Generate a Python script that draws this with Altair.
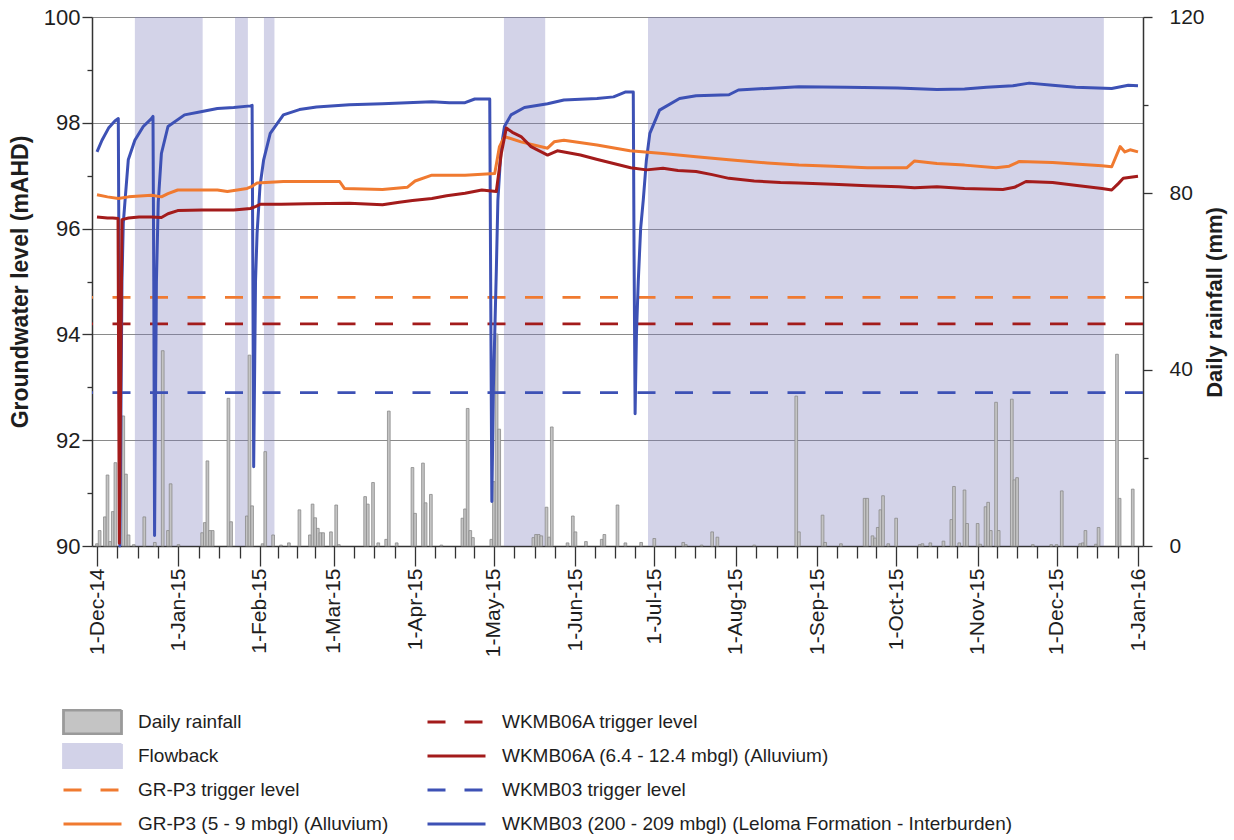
import altair as alt
import pandas as pd

# ---- time axis: positions are days since 1 Dec 2014 ----
MONTH_START_DAYS = [0, 31, 62, 90, 121, 151, 182, 212, 243, 274, 304, 335, 365, 396]
MONTH_LABELS = ["1-Dec-14", "1-Jan-15", "1-Feb-15", "1-Mar-15", "1-Apr-15", "1-May-15",
                "1-Jun-15", "1-Jul-15", "1-Aug-15", "1-Sep-15", "1-Oct-15", "1-Nov-15",
                "1-Dec-15", "1-Jan-16"]

# ---- series names ----
RAIN = "Daily rainfall"
FLOW = "Flowback"
GR_TRIG = "GR-P3 trigger level"
GR = "GR-P3 (5 - 9 mbgl) (Alluvium)"
W6_TRIG = "WKMB06A trigger level"
W6 = "WKMB06A (6.4 - 12.4 mbgl) (Alluvium)"
W3_TRIG = "WKMB03 trigger level"
W3 = "WKMB03 (200 - 209 mbgl) (Leloma Formation - Interburden)"

# ---- flowback periods (start day, end day) ----
flow_start = [14.4, 52.5, 63.5, 154.8, 209.6]
flow_end = [40.2, 57.4, 67.5, 170.5, 383.0]

# ---- daily rainfall (mm) ----
rain_day = [0, 1, 3, 4, 5, 6, 7, 10, 11, 12, 14, 18, 22, 25, 27, 28, 31, 40, 41, 42, 43, 44,
            50, 51, 57, 58, 59, 63, 64, 67, 70, 73, 77, 81, 82, 83, 84, 85, 86, 89, 91, 92,
            102, 103, 105, 107, 110, 111, 114, 120, 121, 124, 125, 127, 131, 139, 140, 141,
            142, 143, 150, 151, 152, 153, 166, 167, 168, 169, 171, 172, 173, 179, 181, 182,
            186, 192, 193, 198, 201, 207, 212, 223, 224, 230, 234, 236, 250, 266, 267, 276,
            277, 283, 292, 293, 295, 296, 297, 298, 299, 301, 304, 313, 314, 317, 322, 325,
            326, 328, 330, 331, 335, 336, 338, 339, 340, 342, 343, 348, 349, 350, 356, 363,
            365, 367, 374, 375, 376, 380, 381, 388, 389, 394]
rain_mm = [0.5, 3.5, 6.6, 16.1, 1.0, 7.8, 18.9, 29.5, 16.3, 2.5, 0.3, 6.6, 0.8, 44.3, 3.5, 14.1,
           0.3, 3.0, 5.3, 19.3, 3.5, 3.5, 33.5, 5.5, 6.8, 43.3, 9.1, 0.5, 21.4, 2.5, 0.2, 0.7,
           8.2, 2.5, 9.5, 6.4, 4.0, 3.0, 3.0, 3.2, 9.3, 0.3, 11.2, 9.5, 14.4, 0.7, 1.5, 30.6,
           0.7, 17.8, 7.4, 18.8, 9.8, 11.7, 0.2, 6.3, 8.4, 31.2, 3.5, 1.9, 1.5, 14.6, 48.1,
           26.5, 1.9, 2.6, 2.6, 2.3, 8.8, 2.0, 27.0, 0.7, 6.8, 3.2, 1.0, 1.5, 2.6, 9.3, 0.7,
           0.8, 1.7, 0.8, 0.3, 0.2, 3.2, 2.0, 0.2, 34.0, 3.2, 7.0, 0.8, 0.5, 10.8, 10.8, 2.3,
           1.8, 4.2, 8.2, 11.4, 0.5, 6.3, 0.3, 0.5, 0.7, 1.1, 6.0, 13.5, 0.7, 12.7, 5.1, 5.1,
           0.4, 8.9, 9.9, 3.5, 32.6, 3.5, 33.3, 15.0, 15.5, 0.3, 0.3, 0.3, 12.5, 0.5, 0.7,
           3.5, 0.4, 4.2, 43.5, 10.8, 12.9]

# ---- trigger levels (mAHD) ----
trig_names = [GR_TRIG, W6_TRIG, W3_TRIG]
trig_levels = [94.7, 94.2, 92.9]

# ---- groundwater levels (mAHD) ----
w3_day = [0, 1.9, 4.4, 6.9, 8.1, 8.4, 8.7, 9.1, 9.5, 10.0, 10.7, 11.9, 14.4, 17.6, 20.7, 21.3,
          21.6, 21.9, 22.3, 22.6, 23.3, 24.5, 27.0, 33.3, 39.5, 45.8, 52.0, 58.4, 59.0,
          59.3, 59.6, 60.0, 60.3, 60.9, 62.0, 63.4, 65.9, 70.9, 77.0, 83.5, 96.0, 108.6,
          118.0, 127.4, 134.0, 140.0, 143.7, 149.4, 149.8, 150.2, 150.8, 151.9, 152.5,
          153.7, 155.0, 157.5, 162.6, 171.4, 177.6, 190.2, 196.5, 200.9, 204.0, 204.3,
          204.7, 205.2, 205.9, 206.8, 207.8, 209.0, 210.3, 214.0, 221.6, 227.9, 240.4,
          244.0, 255.0, 267.0, 285.0, 304.5, 319.5, 330.0, 338.4, 348.4, 354.6, 363.5,
          372.3, 386.0, 392.3, 396.0]
w3_lvl = [97.45, 97.67, 97.90, 98.04, 98.08, 95.0, 90.0, 92.5, 95.0, 96.1, 96.55, 97.3, 97.67,
          97.93, 98.08, 98.12, 95.0, 90.2, 93.0, 95.0, 96.5, 97.42, 97.93, 98.15, 98.21,
          98.27, 98.29, 98.32, 98.33, 95.0, 91.5, 93.5, 95.0, 95.92, 96.8, 97.3, 97.8, 98.15,
          98.25, 98.30, 98.34, 98.36, 98.38, 98.40, 98.38, 98.38, 98.45, 98.45, 94.5, 90.84,
          93.0, 95.2, 96.54, 97.5, 97.93, 98.15, 98.29, 98.36, 98.43, 98.46, 98.49, 98.58,
          98.58, 95.5, 92.5, 94.0, 95.0, 96.0, 96.54, 97.3, 97.8, 98.24, 98.46, 98.51, 98.53,
          98.62, 98.65, 98.68, 98.67, 98.66, 98.63, 98.64, 98.67, 98.70, 98.75, 98.71,
          98.67, 98.65, 98.71, 98.70]

gr_day = [0, 4, 8.1, 12, 20.7, 24.5, 27, 30.7, 45.8, 49.6, 57.1, 59, 60.9, 70.9, 92.3, 94.1,
          108.6, 118, 121, 127.4, 140, 151.3, 153.1, 155, 161.3, 171.4, 173.9, 177.6, 190.2,
          202.7, 215.3, 227.9, 240.4, 255, 267, 280, 293, 308, 311, 319.5, 330, 342, 347,
          350.9, 363.5, 372, 382.3, 386, 389.2, 391, 393, 396]
gr_lvl = [96.64, 96.60, 96.57, 96.60, 96.63, 96.60, 96.66, 96.73, 96.73, 96.70, 96.76, 96.80,
          96.86, 96.89, 96.89, 96.76, 96.74, 96.78, 96.90, 97.01, 97.01, 97.04, 97.55, 97.74,
          97.64, 97.52, 97.64, 97.67, 97.58, 97.47, 97.42, 97.36, 97.30, 97.24, 97.20, 97.18,
          97.15, 97.15, 97.28, 97.23, 97.20, 97.15, 97.18, 97.27, 97.25, 97.22, 97.19, 97.17,
          97.55, 97.45, 97.49, 97.45]

w6_day = [0, 2, 4, 6, 8.0, 8.5, 9.5, 12, 16, 20.7, 24.5, 27, 30.7, 40, 52, 58.4, 60.5, 62.1,
          70, 80, 96, 108.6, 115, 120, 127.4, 133, 140, 146.4, 151.9, 153.8, 155.7, 158,
          161.3, 165.1, 171.4, 175.1, 183.9, 190, 196.5, 203, 209, 215.3, 221, 227.9, 234,
          240.4, 250, 260, 267, 280, 293, 305, 311, 319.5, 330, 344.6, 349, 353.4, 363.5,
          372, 382.3, 386, 388.5, 390.4, 396]
w6_lvl = [96.22, 96.21, 96.20, 96.20, 96.19, 90.05, 96.17, 96.20, 96.22, 96.22, 96.21, 96.28,
          96.34, 96.35, 96.35, 96.38, 96.42, 96.46, 96.46, 96.47, 96.48, 96.45, 96.50, 96.53,
          96.57, 96.62, 96.67, 96.73, 96.70, 97.42, 97.90, 97.82, 97.74, 97.55, 97.39, 97.47,
          97.39, 97.31, 97.23, 97.15, 97.11, 97.14, 97.10, 97.08, 97.02, 96.95, 96.90, 96.87,
          96.86, 96.84, 96.81, 96.79, 96.77, 96.79, 96.76, 96.74, 96.78, 96.89, 96.87, 96.82,
          96.76, 96.73, 96.85, 96.95, 96.99]

# ---- styling ----
ORANGE = "#f07a30"
RED = "#a31b1b"
BLUE = "#3d51b5"
RAIN_FILL = "#c4c4c4"
RAIN_EDGE = "#8a8a8a"
FLOW_FILL = "#d2d2e8"
FONT = "Liberation Sans"
TEXT = "#1e1e1e"
AXIS = "#333333"

# ---- tables ----
flow_df = pd.DataFrame({"start": flow_start, "end": flow_end})
rain_df = pd.DataFrame({"day": rain_day, "mm": rain_mm})
trig_df = pd.DataFrame({"series": trig_names, "level": trig_levels})
levels_df = pd.concat([
    pd.DataFrame({"series": W3, "day": w3_day, "level": w3_lvl}),
    pd.DataFrame({"series": GR, "day": gr_day, "level": gr_lvl}),
    pd.DataFrame({"series": W6, "day": w6_day, "level": w6_lvl}),
], ignore_index=True)

# ---- x axis: labelled month ticks plus quarter-month minor ticks ----
tick_days = []
for i in range(len(MONTH_START_DAYS) - 1):
    s = MONTH_START_DAYS[i]
    span = MONTH_START_DAYS[i + 1] - s
    tick_days += [s + span * k / 4 for k in range(4)]
tick_days.append(MONTH_START_DAYS[-1])

label_expr = "".join(f"datum.value == {d} ? '{lab}' : "
                     for d, lab in zip(MONTH_START_DAYS, MONTH_LABELS)) + "''"
is_month = f"indexof({MONTH_START_DAYS}, datum.value) >= 0"

x_scale = alt.Scale(domain=[0, 396], nice=False, zero=False)
x_axis = alt.Axis(values=tick_days, labelExpr=label_expr, labelAngle=270,
                  tickSize={"condition": {"test": is_month, "value": 20}, "value": 12},
                  tickColor=AXIS, tickWidth=1.3, domainColor=AXIS, domainWidth=1.5,
                  labelPadding=2, labelFontSize=21, labelColor=TEXT, grid=False, title=None)


def x_enc(field):
    return alt.X(f"{field}:Q", scale=x_scale, axis=x_axis)


y_left = alt.Y(
    "level:Q",
    scale=alt.Scale(domain=[90, 100], nice=False, zero=False),
    axis=alt.Axis(
        values=list(range(90, 101)),
        labelExpr="datum.value % 2 == 0 ? datum.label : ''",
        tickSize={"condition": {"test": "datum.value % 2 == 0", "value": 10}, "value": 5},
        tickColor=AXIS, tickWidth=1.3, domainColor=AXIS, domainWidth=1.5,
        grid=True, gridColor="#8a8a8a", gridWidth=1.2,
        gridOpacity={"condition": {"test": "datum.value % 2 == 0 && datum.value > 90", "value": 1},
                     "value": 0},
        labelPadding=2, labelFontSize=22, labelColor=TEXT,
        title="Groundwater level (mAHD)", titleFontSize=23, titleFontWeight="bold",
        titleColor=TEXT, titlePadding=11,
    ),
)

y_right = alt.Y(
    "mm:Q",
    scale=alt.Scale(domain=[0, 120], nice=False, zero=True),
    axis=alt.Axis(
        orient="right", values=list(range(0, 121, 20)),
        labelExpr="datum.value % 40 == 0 ? datum.label : ''",
        tickSize={"condition": {"test": "datum.value % 40 == 0", "value": 9}, "value": 5},
        tickColor=AXIS, tickWidth=1.3, domainColor=AXIS, domainWidth=1.5, grid=False,
        labelPadding=17, labelFontSize=21, labelColor=TEXT,
        title="Daily rainfall (mm)", titleAngle=270, titleFontSize=22, titleY=285,
        titleFontWeight="bold", titleColor=TEXT, titlePadding=22,
    ),
)

line_color = alt.Scale(domain=[GR_TRIG, W6_TRIG, W3_TRIG, GR, W6, W3],
                       range=[ORANGE, RED, BLUE, ORANGE, RED, BLUE])

# ---- layers ----
bands = alt.Chart(flow_df).mark_rect(color="#7a7ab8", opacity=0.33).encode(
    x=x_enc("start"), x2="end:Q")

rain = alt.Chart(rain_df).mark_bar(size=2.7, fill=RAIN_FILL, stroke=RAIN_EDGE,
                                   strokeWidth=0.8).encode(x=x_enc("day"), y=y_right)

triggers = alt.Chart(trig_df).mark_rule(strokeDash=[18, 19.5], strokeWidth=2.8).encode(
    y=y_left, color=alt.Color("series:N", scale=line_color, legend=None))


def level_line(name):
    return (alt.Chart(levels_df)
            .transform_filter(alt.datum.series == name)
            .mark_line(strokeWidth=3, strokeJoin="round")
            .encode(x=x_enc("day"), y=y_left,
                    color=alt.Color("series:N", scale=line_color, legend=None)))


# legend: eight entries filling two columns of four
legend_order = [RAIN, FLOW, GR_TRIG, GR, W6_TRIG, W6, W3_TRIG, W3]
RECT = "M-1,-0.41H1V0.41H-1Z"
LINE = "M-1,0H1"
shapes = [RECT, RECT, LINE, LINE, LINE, LINE, LINE, LINE]
fills = [RAIN_FILL, FLOW_FILL] + ["transparent"] * 6
strokes = ["#9a9a9a", FLOW_FILL, ORANGE, ORANGE, RED, RED, BLUE, BLUE]
dashes = [[1, 0], [1, 0], [18, 19], [1, 0], [18, 19], [1, 0], [18, 19], [1, 0]]

legend = alt.Legend(
    title=None, orient="none", legendX=-30, legendY=692, columns=2,
    columnPadding=37, rowPadding=8, symbolSize=3364, clipHeight=26,
    symbolStrokeWidth=2.8, labelOffset=15, labelFontSize=19,
    labelColor=TEXT, labelFont=FONT, labelLimit=900, padding=0,
)

legend_df = pd.DataFrame({"series": legend_order, "day": [None] * 8, "level": [None] * 8})
legend_layer = alt.Chart(legend_df).mark_point(filled=True, opacity=1, strokeWidth=2.8).encode(
    x=x_enc("day"), y=y_left,
    shape=alt.Shape("series:N", scale=alt.Scale(domain=legend_order, range=shapes), legend=legend),
    fill=alt.Fill("series:N", scale=alt.Scale(domain=legend_order, range=fills), legend=legend),
    stroke=alt.Stroke("series:N", scale=alt.Scale(domain=legend_order, range=strokes), legend=legend),
    strokeDash=alt.StrokeDash("series:N", scale=alt.Scale(domain=legend_order, range=dashes),
                              legend=legend),
)

levels = alt.layer(triggers, level_line(W3), level_line(GR), level_line(W6), legend_layer)

chart = (
    alt.layer(bands, rain, levels)
    .resolve_scale(y="independent")
    .properties(width=1051, height=529,
                padding={"left": 92, "top": 17, "right": 91, "bottom": 294},
                autosize=alt.AutoSizeParams(type="none"))
    .configure_view(stroke=None)
    .configure_axis(labelFont=FONT, titleFont=FONT)
    .configure_legend(labelFont=FONT)
)

chart.save("out.html", embed_options={"renderer": "svg", "actions": False})
